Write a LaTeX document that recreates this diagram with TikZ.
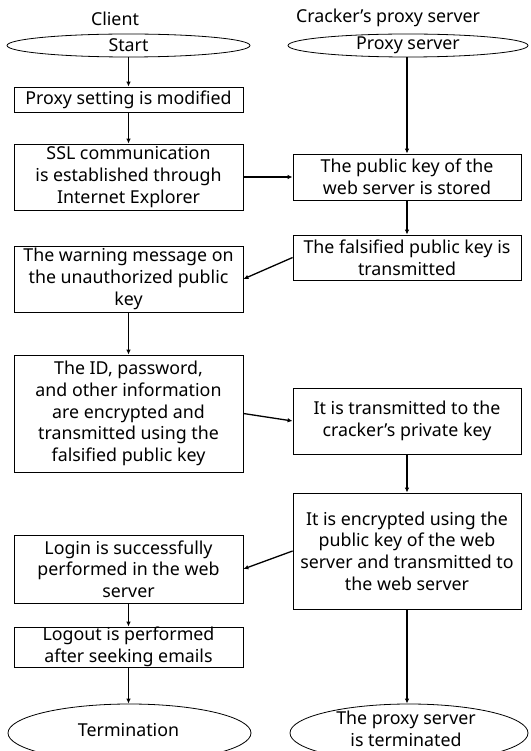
\documentclass[tikz,border=0pt]{standalone}
\usepackage{fontspec}
\setmainfont{Noto Sans}
\usetikzlibrary{shapes.geometric,arrows.meta}
\begin{document}
\begin{tikzpicture}[x=1pt,y=-1pt,
  every node/.style={font=\fontsize{17.8}{21.7}\selectfont, inner sep=0pt, align=center},
  box/.style={draw, line width=0.8pt, minimum width=229pt},
  oval/.style={draw, ellipse, line width=0.8pt, inner sep=0pt},
  arr/.style={line width=1.3pt, -{Latex[length=5pt,width=4.5pt]}}]
\useasboundingbox (0,0) rectangle (530,751);
\node (tc) at (115,19) {Client};
\node (tp) at (388,18) {Cracker’s proxy server};
\node[oval, minimum width=243pt, minimum height=23pt] (start) at (128.5,45.5) {};
\node at (start.center) {Start};
\node[oval, minimum width=240pt, minimum height=23pt] (proxy) at (408,45.5) {};
\node at (proxy.center) {Proxy server};
\node[box, minimum height=25pt] (pset) at (128.5,99.5) {Proxy setting is modified};
\node[box, minimum height=66pt] (ssl) at (128.5,177) {SSL communication\\is established through\\Internet Explorer};
\node[box, minimum width=228pt, minimum height=46pt] (pub) at (407,177) {The public key of the\\web server is stored};
\node[box, minimum width=228pt, minimum height=45pt] (fals) at (407,257.5) {The falsified public key is\\transmitted};
\node[box, minimum height=66pt] (warn) at (128.5,279) {The warning message on\\the unauthorized public\\key};
\node[box, minimum height=117pt] (id) at (128.5,413.5) {The ID, password,\\and other information\\are encrypted and\\transmitted using the\\falsified public key};
\node[box, minimum width=228pt, minimum height=66pt] (trans) at (407,421) {It is transmitted to the\\cracker’s private key};
\node[box, minimum width=228pt, minimum height=116pt] (enc) at (407,551) {It is encrypted using the\\public key of the web\\server and transmitted to\\the web server};
\node[box, minimum height=68pt] (login) at (128.5,569) {Login is successfully\\performed in the web\\server};
\node[box, minimum height=40pt] (logout) at (128.5,647) {Logout is performed\\after seeking emails};
\node[oval, minimum width=243pt, minimum height=58pt] (term) at (129.5,733) {};
\node at (128.5,730) {Termination};
\node[oval, minimum width=238pt, minimum height=58pt] (pterm) at (409,733) {};
\node at (406,728.5) {The proxy server\\is terminated};
\draw[arr] (start.south -| pset.north) -- (pset.north);
\draw[arr] (pset.south) -- (ssl.north);
\draw[arr] (pub.north |- proxy.south) -- (pub.north);
\draw[arr] (ssl.east) -- (pub.west);
\draw[arr] (pub.south) -- (fals.north);
\draw[arr] (fals.west) -- (warn.east);
\draw[arr] (warn.south) -- (id.north);
\draw[arr] (id.east) -- (trans.west);
\draw[arr] (trans.south) -- (enc.north);
\draw[arr] (enc.west) -- (login.east);
\draw[arr] (login.south) -- (logout.north);
\draw[arr] (logout.south) -- (logout.south |- term.north);
\draw[arr] (enc.south) -- (enc.south |- pterm.north);
\end{tikzpicture}
\end{document}
